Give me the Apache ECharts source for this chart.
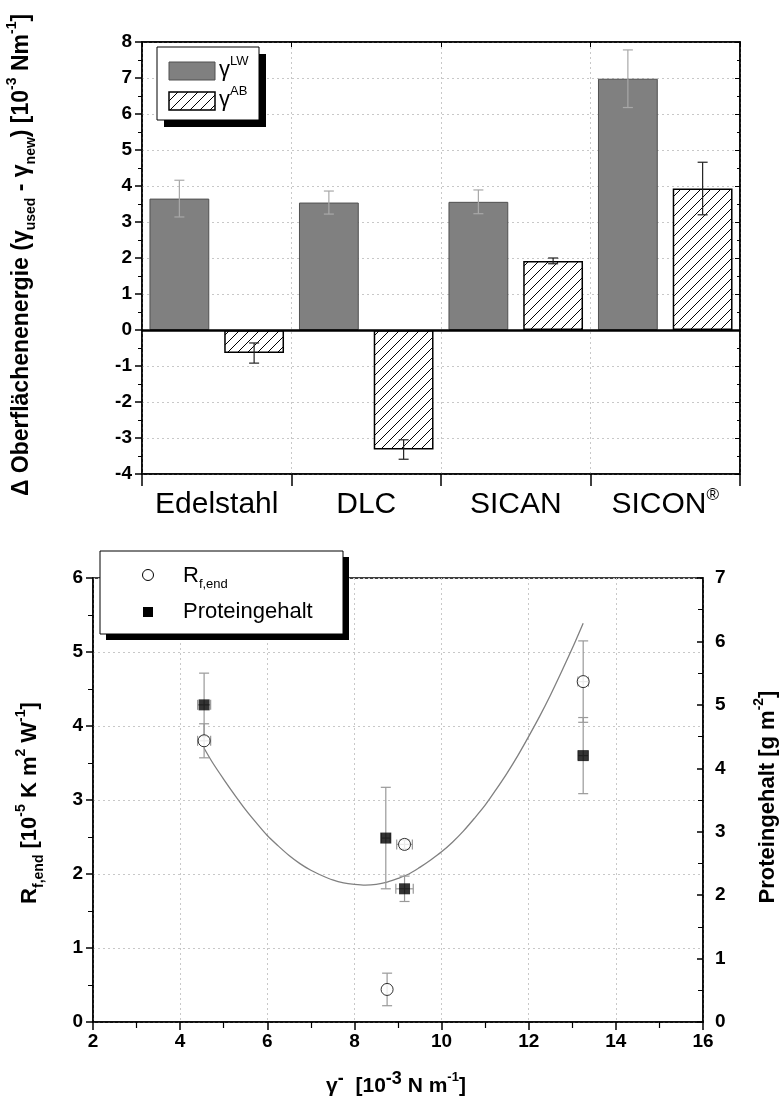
<!DOCTYPE html>
<html><head><meta charset="utf-8">
<script src="https://cdn.jsdelivr.net/npm/echarts@6/dist/echarts.min.js"></script>
<style>html,body{margin:0;padding:0;background:#fff}#c{width:784px;height:1109px}</style>
</head><body><div id="c"></div>
<script>
// ---------- Top chart data ----------
const categories = ['Edelstahl', 'DLC', 'SICAN', 'SICON®'];
const gammaLW = [3.65, 3.54, 3.56, 6.98];
const gammaLWErr = [0.51, 0.32, 0.33, 0.80];
const gammaAB = [-0.64, -3.32, 1.92, 3.93];
const gammaABErr = [0.28, 0.27, 0.08, 0.73];

// ---------- Bottom chart data ----------
const rfX = [4.55, 8.75, 9.15, 13.25];
const rfXErr = [0.15, 0.0, 0.18, 0.12];
const rfY = [3.80, 0.44, 2.40, 4.60];
const rfYErr = [0.23, 0.22, 0.06, 0.55];

const protX = [4.55, 8.72, 9.15, 13.25];
const protXErr = [0.15, 0.10, 0.20, 0.12];
const protY = [5.0, 2.9, 2.1, 4.2];
const protYErr = [0.5, 0.8, 0.2, 0.6];

// fitted curve (left axis units)
const fitX = [4.55, 4.75, 5, 5.25, 5.5, 5.75, 6, 6.25, 6.5, 6.75, 7, 7.25, 7.5, 7.75, 8, 8.25, 8.5, 8.75, 9, 9.25, 9.5, 9.75, 10, 10.25, 10.5, 10.75, 11, 11.25, 11.5, 11.75, 12, 12.25, 12.5, 12.75, 13, 13.25];
const fitY = [3.70, 3.50, 3.28, 3.07, 2.87, 2.69, 2.52, 2.38, 2.25, 2.14, 2.05, 1.98, 1.92, 1.88, 1.86, 1.85, 1.86, 1.89, 1.94, 2.00, 2.09, 2.19, 2.30, 2.43, 2.58, 2.75, 2.93, 3.14, 3.36, 3.60, 3.86, 4.13, 4.42, 4.73, 5.05, 5.39];

const FONT = "'Liberation Sans', Arial, Helvetica, sans-serif";

function makeHatch() {
  const s = 10;
  const cv = document.createElement('canvas');
  cv.width = s; cv.height = s;
  const ctx = cv.getContext('2d');
  ctx.fillStyle = '#fff'; ctx.fillRect(0, 0, s, s);
  ctx.strokeStyle = '#000'; ctx.lineWidth = 1;
  ctx.beginPath();
  ctx.moveTo(-1, s + 1); ctx.lineTo(s + 1, -1);
  ctx.moveTo(-1, 1); ctx.lineTo(1, -1);
  ctx.moveTo(s - 1, s + 1); ctx.lineTo(s + 1, s - 1);
  ctx.stroke();
  return cv;
}
const hatch = { image: makeHatch(), repeat: 'repeat' };

const chart = echarts.init(document.getElementById('c'), null, { renderer: 'canvas' });

function barErr(vals, errs, side, color) {
  return function (params, api) {
    const i = params.dataIndex;
    const c = api.coord([i, vals[i]]);
    const band = api.size([1, 0])[0];
    const bw = band * 0.4;
    const x = c[0] + side * bw * 0.625;
    const yHi = api.coord([i, vals[i] + errs[i]])[1];
    const yLo = api.coord([i, vals[i] - errs[i]])[1];
    const cap = 5;
    const st = { stroke: color, lineWidth: 1.2 };
    return { type: 'group', children: [
      { type: 'line', shape: { x1: x, y1: yHi, x2: x, y2: yLo }, style: st },
      { type: 'line', shape: { x1: x - cap, y1: yHi, x2: x + cap, y2: yHi }, style: st },
      { type: 'line', shape: { x1: x - cap, y1: yLo, x2: x + cap, y2: yLo }, style: st }
    ]};
  };
}

function xyErr(params, api) {
  const x = api.value(0), y = api.value(1), ex = api.value(2), ey = api.value(3);
  const c = api.coord([x, y]);
  const cap = 5;
  const st = { stroke: '#999', lineWidth: 1.2 };
  const ch = [];
  if (ey > 0) {
    const y1 = api.coord([x, y + ey])[1], y2 = api.coord([x, y - ey])[1];
    ch.push({ type: 'line', shape: { x1: c[0], y1: y1, x2: c[0], y2: y2 }, style: st });
    ch.push({ type: 'line', shape: { x1: c[0] - cap, y1: y1, x2: c[0] + cap, y2: y1 }, style: st });
    ch.push({ type: 'line', shape: { x1: c[0] - cap, y1: y2, x2: c[0] + cap, y2: y2 }, style: st });
  }
  if (ex > 0) {
    const x1 = api.coord([x - ex, y])[0], x2 = api.coord([x + ex, y])[0];
    ch.push({ type: 'line', shape: { x1: x1, y1: c[1], x2: x2, y2: c[1] }, style: st });
    ch.push({ type: 'line', shape: { x1: x1, y1: c[1] - cap, x2: x1, y2: c[1] + cap }, style: st });
    ch.push({ type: 'line', shape: { x1: x2, y1: c[1] - cap, x2: x2, y2: c[1] + cap }, style: st });
  }
  return { type: 'group', children: ch };
}

const tickLabel = { fontFamily: FONT, fontWeight: 'bold', fontSize: 19, color: '#000' };
const gridDot = { show: true, lineStyle: { color: '#c8c8c8', type: [2, 3], width: 1 } };
const blackLine = { show: true, lineStyle: { color: '#000', width: 1.5 } };

function mkRich(base) {
  const s = Math.round(base * 0.63);
  return {
    n: { fontFamily: FONT, fontWeight: 'bold', fontSize: base, lineHeight: base + 10, color: '#000' },
    sup: { fontFamily: FONT, fontWeight: 'bold', fontSize: s, lineHeight: s + 4, verticalAlign: 'top', color: '#000' },
    sub: { fontFamily: FONT, fontWeight: 'bold', fontSize: s, lineHeight: s + 4, verticalAlign: 'bottom', color: '#000' },
    supb: { fontFamily: FONT, fontWeight: 'bold', fontSize: Math.round(base * 0.85), lineHeight: Math.round(base * 0.85) + 2, verticalAlign: 'top', color: '#000' }
  };
}
const legRich = {
  n: { fontFamily: FONT, fontSize: 22, lineHeight: 30, color: '#000' },
  sup: { fontFamily: FONT, fontSize: 13, lineHeight: 16, verticalAlign: 'top', color: '#000' },
  sub: { fontFamily: FONT, fontSize: 13, lineHeight: 16, verticalAlign: 'bottom', color: '#000' }
};

const option = {
  animation: false,
  backgroundColor: '#fff',
  grid: [
    { left: 142, top: 42, width: 598, height: 432, show: true, borderColor: '#000', borderWidth: 1.5, backgroundColor: 'transparent' },
    { left: 93, top: 578, width: 610, height: 444, show: true, borderColor: '#000', borderWidth: 1.5, backgroundColor: 'transparent' }
  ],
  xAxis: [
    { type: 'category', gridIndex: 0, data: categories, position: 'bottom',
      axisLine: { show: true, onZero: false, lineStyle: { color: '#000', width: 1.5 } },
      axisTick: { show: true, interval: 0, length: 12, lineStyle: { color: '#000', width: 1.5 } },
      splitLine: Object.assign({ interval: 0 }, gridDot),
      axisLabel: { interval: 0, margin: 13,
        formatter: v => v.endsWith('®') ? '{n|' + v.slice(0, -1) + '}{r|®}' : '{n|' + v + '}',
        rich: { n: { fontFamily: FONT, fontSize: 30, lineHeight: 36, color: '#000' },
                r: { fontFamily: FONT, fontSize: 17, lineHeight: 17, verticalAlign: 'top', color: '#000' } } } },
    { type: 'category', gridIndex: 0, data: categories, position: 'top',
      axisLine: { show: true, onZero: false, lineStyle: { color: '#000', width: 1.5 } },
      axisTick: { show: true, inside: true, interval: 0, length: 5, lineStyle: { color: '#000' } },
      axisLabel: { show: false }, splitLine: { show: false } },
    { type: 'value', gridIndex: 1, min: 2, max: 16, interval: 2, position: 'bottom',
      axisLine: { show: true, onZero: false, lineStyle: { color: '#000', width: 1.5 } },
      axisTick: { show: true, length: 8, lineStyle: { color: '#000', width: 1.5 } },
      minorTick: { show: true, splitNumber: 2, length: 6, lineStyle: { color: '#000', width: 1.2 } },
      axisLabel: Object.assign({ margin: 10 }, tickLabel),
      splitLine: gridDot }
  ],
  yAxis: [
    { type: 'value', gridIndex: 0, min: -4, max: 8, interval: 1, position: 'left',
      axisLine: blackLine,
      axisTick: { show: true, length: 7, lineStyle: { color: '#000', width: 1.5 } },
      minorTick: { show: true, splitNumber: 2, length: 4, lineStyle: { color: '#000' } },
      axisLabel: Object.assign({ margin: 10 }, tickLabel),
      splitLine: gridDot },
    { type: 'value', gridIndex: 0, min: -4, max: 8, interval: 1, position: 'right',
      axisLine: blackLine,
      axisTick: { show: true, inside: true, length: 5, lineStyle: { color: '#000' } },
      minorTick: { show: true, splitNumber: 2, length: 3, lineStyle: { color: '#000' } },
      axisLabel: { show: false }, splitLine: { show: false } },
    { type: 'value', gridIndex: 1, min: 0, max: 6, interval: 1, position: 'left',
      axisLine: blackLine,
      axisTick: { show: true, length: 7, lineStyle: { color: '#000', width: 1.5 } },
      minorTick: { show: true, splitNumber: 2, length: 5, lineStyle: { color: '#000' } },
      axisLabel: Object.assign({ margin: 10 }, tickLabel),
      splitLine: gridDot },
    { type: 'value', gridIndex: 1, min: 0, max: 7, interval: 1, position: 'right',
      axisLine: blackLine,
      axisTick: { show: true, inside: true, length: 6, lineStyle: { color: '#000', width: 1.5 } },
      minorTick: { show: true, splitNumber: 2, length: 5, lineStyle: { color: '#000' } },
      axisLabel: Object.assign({ margin: 12 }, tickLabel),
      splitLine: { show: false } }
  ],
  series: [
    { name: 'γLW', type: 'bar', xAxisIndex: 0, yAxisIndex: 0, data: gammaLW,
      barWidth: '40%', barGap: '25%',
      itemStyle: { color: '#808080', borderColor: '#505050', borderWidth: 1 },
      markLine: { silent: true, symbol: 'none', label: { show: false },
        lineStyle: { color: '#000', width: 2.5, type: 'solid' }, data: [{ yAxis: 0 }] } },
    { name: 'γAB', type: 'bar', xAxisIndex: 0, yAxisIndex: 0, data: gammaAB,
      barWidth: '40%', barGap: '25%',
      itemStyle: { color: hatch, borderColor: '#000', borderWidth: 1.5 } },
    { type: 'custom', xAxisIndex: 0, yAxisIndex: 0, z: 5,
      data: gammaLW.map((v, i) => [i, v]), encode: { x: 0, y: 1 },
      renderItem: barErr(gammaLW, gammaLWErr, -1, '#a8a8a8') },
    { type: 'custom', xAxisIndex: 0, yAxisIndex: 0, z: 5,
      data: gammaAB.map((v, i) => [i, v]), encode: { x: 0, y: 1 },
      renderItem: barErr(gammaAB, gammaABErr, 1, '#222') },

    { type: 'line', xAxisIndex: 2, yAxisIndex: 2, data: fitX.map((x, i) => [x, fitY[i]]),
      smooth: 0.3, symbol: 'none', z: 2, lineStyle: { color: '#808080', width: 1.3 } },
    { type: 'custom', xAxisIndex: 2, yAxisIndex: 3, z: 3,
      data: protX.map((x, i) => [x, protY[i], protXErr[i], protYErr[i]]), encode: { x: 0, y: 1 },
      renderItem: xyErr },
    { type: 'custom', xAxisIndex: 2, yAxisIndex: 2, z: 3,
      data: rfX.map((x, i) => [x, rfY[i], rfXErr[i], rfYErr[i]]), encode: { x: 0, y: 1 },
      renderItem: xyErr },
    { name: 'Proteingehalt', type: 'scatter', xAxisIndex: 2, yAxisIndex: 3, z: 4,
      data: protX.map((x, i) => [x, protY[i]]), symbol: 'rect', symbolSize: 11,
      itemStyle: { color: '#000' } },
    { name: 'Rf,end', type: 'scatter', xAxisIndex: 2, yAxisIndex: 2, z: 5,
      data: rfX.map((x, i) => [x, rfY[i]]), symbol: 'circle', symbolSize: 12,
      itemStyle: { color: '#fff', borderColor: '#000', borderWidth: 1 } }
  ],
  graphic: [
    // top legend
    { type: 'rect', shape: { x: 164, y: 54, width: 102, height: 73 }, style: { fill: '#000' }, z: 20 },
    { type: 'rect', shape: { x: 157, y: 47, width: 102, height: 73 }, style: { fill: '#fff', stroke: '#000', lineWidth: 1 }, z: 21 },
    { type: 'rect', shape: { x: 169, y: 62, width: 46, height: 18 }, style: { fill: '#808080', stroke: '#505050', lineWidth: 1 }, z: 22 },
    { type: 'rect', shape: { x: 169, y: 92, width: 46, height: 18 }, style: { fill: hatch, stroke: '#000', lineWidth: 1.5 }, z: 22 },
    { type: 'text', x: 219, y: 70, z: 22, style: { text: '{n|γ}{sup|LW}', rich: legRich, align: 'left', verticalAlign: 'middle' } },
    { type: 'text', x: 219, y: 100, z: 22, style: { text: '{n|γ}{sup|AB}', rich: legRich, align: 'left', verticalAlign: 'middle' } },
    // bottom legend
    { type: 'rect', shape: { x: 106, y: 557, width: 243, height: 83 }, style: { fill: '#000' }, z: 20 },
    { type: 'rect', shape: { x: 100, y: 551, width: 243, height: 83 }, style: { fill: '#fff', stroke: '#000', lineWidth: 1 }, z: 21 },
    { type: 'circle', shape: { cx: 148, cy: 575, r: 5.5 }, style: { fill: '#fff', stroke: '#000', lineWidth: 1 }, z: 22 },
    { type: 'rect', shape: { x: 143, y: 607, width: 10, height: 10 }, style: { fill: '#000' }, z: 22 },
    { type: 'text', x: 183, y: 576, z: 22, style: { text: '{n|R}{sub|f,end}', rich: legRich, align: 'left', verticalAlign: 'middle' } },
    { type: 'text', x: 183, y: 612, z: 22, style: { text: '{n|Proteingehalt}', rich: legRich, align: 'left', verticalAlign: 'middle' } },
    // axis titles
    { type: 'text', x: 22, y: 255, rotation: Math.PI / 2, z: 22,
      style: { text: '{n|Δ Oberflächenenergie (γ}{sub|used}{n| - γ}{sub|new}{n|) [10}{sup|-3}{n| Nm}{sup|-1}{n|]}', rich: mkRich(23), align: 'center', verticalAlign: 'middle' } },
    { type: 'text', x: 30, y: 803, rotation: Math.PI / 2, z: 22,
      style: { text: '{n|R}{sub|f,end}{n| [10}{sup|-5}{n| K m}{sup|2}{n| W}{sup|-1}{n|]}', rich: mkRich(22), align: 'center', verticalAlign: 'middle' } },
    { type: 'text', x: 768, y: 797, rotation: Math.PI / 2, z: 22,
      style: { text: '{n|Proteingehalt [g m}{sup|-2}{n|]}', rich: mkRich(22), align: 'center', verticalAlign: 'middle' } },
    { type: 'text', x: 396, y: 1086, z: 22,
      style: { text: '{n|γ}{supb|-}{n|  [10}{supb|-3}{n| N m}{sup|-1}{n|]}', rich: mkRich(21), align: 'center', verticalAlign: 'middle' } }
  ]
};
chart.setOption(option);
</script>
</body></html>
